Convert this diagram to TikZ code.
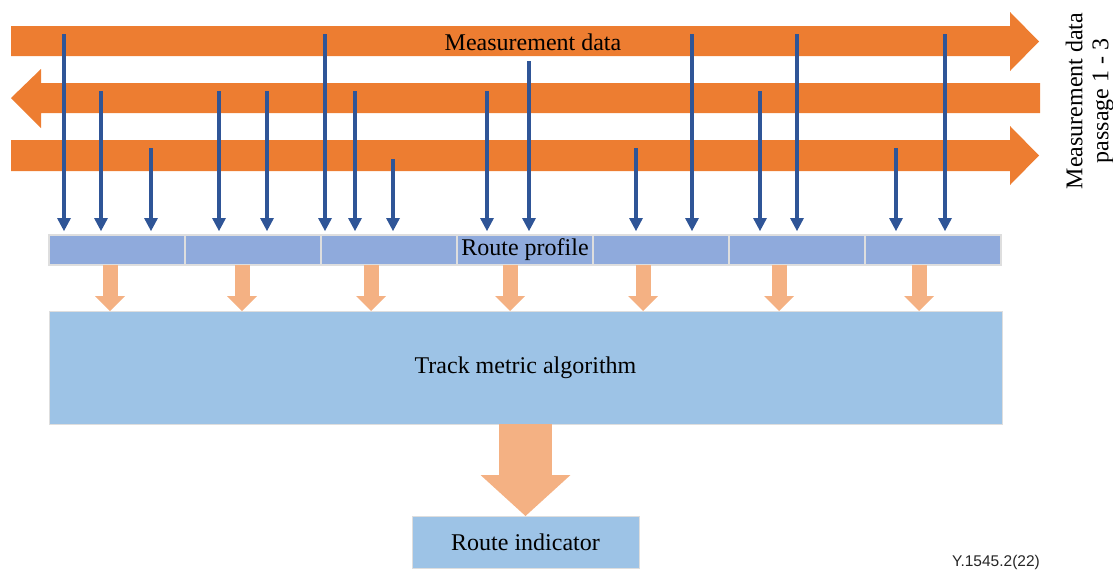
\documentclass[tikz,border=0pt]{standalone}
\usepackage{fontspec}
\setmainfont{Liberation Serif}
\newfontfamily\labelsans{Liberation Sans}
\usetikzlibrary{arrows.meta}
\definecolor{bandorange}{RGB}{237,125,49}
\definecolor{lightorange}{RGB}{244,177,131}
\definecolor{darkblue}{RGB}{47,85,151}
\definecolor{profblue}{RGB}{143,170,220}
\definecolor{trackblue}{RGB}{157,195,230}
\definecolor{edgegray}{RGB}{222,222,222}
\begin{document}
\begin{tikzpicture}[x=1pt,y=-1pt,
  band/.style={fill=bandorange, draw=none},
  bigtext/.style={font=\fontsize{24}{26}\selectfont},
  seg/.style={draw=edgegray, line width=1.3pt, fill=profblue, minimum width=136pt,
    minimum height=30pt, inner sep=0pt, outer sep=0pt, bigtext},
  databox/.style={draw=edgegray, line width=1pt, fill=trackblue, inner sep=0pt,
    outer sep=0pt, bigtext},
  bluearr/.style={draw=darkblue, line width=3.2pt,
    -{Triangle[width=14pt,length=13pt,line width=0pt]}},
  feedarr/.style={draw=lightorange, line width=15pt,
    -{Triangle[width=30pt,length=15pt,line width=0pt]}},
  bigarr/.style={draw=lightorange, line width=53pt,
    -{Triangle[width=90pt,length=41pt,line width=0pt]}}]
\useasboundingbox (0,0) rectangle (1113,570);

% measurement data bands (passages 1-3)
\fill[band] (11,26) -- (1010,26) -- (1010,12) -- (1039,41.5) -- (1010,71) -- (1010,56) -- (11,56) -- cycle;
\fill[band] (1040,83) -- (41,83) -- (41,69) -- (11,98) -- (41,128) -- (41,113) -- (1040,113) -- cycle;
\fill[band] (11,140) -- (1010,140) -- (1010,126) -- (1039,155.5) -- (1010,185) -- (1010,171) -- (11,171) -- cycle;

\node[bigtext, anchor=base, inner sep=0pt] (mdata) at (533,50) {Measurement data};
\node[bigtext, rotate=90, align=center, inner sep=0pt] (passage) at (1089.5,101)
  {Measurement data\\passage 1 - 3};

% route profile segments
\foreach \i in {1,...,7} {
  \pgfmathsetmacro{\cx}{49+68+136*(\i-1)}
  \ifnum\i=4
    \node[seg] (s\i) at (\cx,250) {Route profile};
  \else
    \node[seg] (s\i) at (\cx,250) {};
  \fi
}

% measurement samples
\foreach \x/\y [count=\k] in {64/34, 101/91, 151/148, 219/91, 267/91, 325/34, 355/91, 393/159,
    487/91, 529/61, 636/148, 692/34, 760/91, 797/34, 896/148, 945/34} {
  \coordinate (b\k) at (\x,\y);
  \coordinate (e\k) at (\x,231);
  \draw[bluearr] (b\k) -- (e\k);
}

% track metric algorithm
\node[databox, minimum width=953pt, minimum height=113pt] (track) at (525.5,367.5)
  {Track metric algorithm};

% feed arrows from profile to algorithm
\foreach \x [count=\k] in {110, 242, 371, 510, 643, 779, 919} {
  \coordinate (f\k) at (\x,265);
  \coordinate (g\k) at (\x,311);
  \draw[feedarr] (f\k) -- (g\k);
}

% route indicator
\node[databox, minimum width=227pt, minimum height=52pt] (ri) at (525.5,542)
  {Route indicator};
\draw[bigarr] (track.south) -- (ri.north);

\node[font=\labelsans\fontsize{15.5}{17}\selectfont, text=black!85, anchor=base,
  inner sep=0pt] (figid) at (996,566) {Y.1545.2(22)};
\end{tikzpicture}
\end{document}
